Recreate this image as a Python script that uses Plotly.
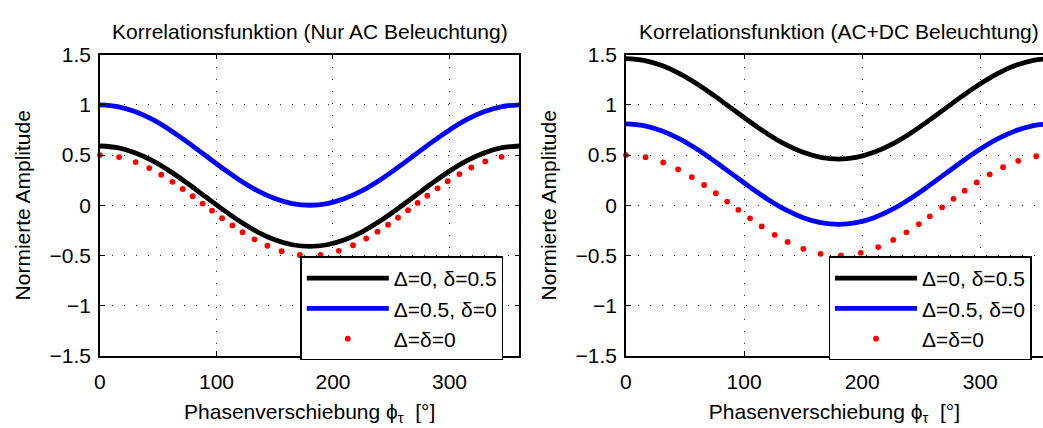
import plotly.graph_objects as go

# ---------------- data ----------------
phase_lines = [0, 15, 30, 45, 60, 75, 90, 105, 120, 135, 150, 165, 180,
               195, 210, 225, 240, 255, 270, 285, 300, 315, 330, 345, 360]

left_black = [0.59, 0.573, 0.523, 0.444, 0.34, 0.219, 0.09, -0.039, -0.16, -0.264, -0.343, -0.393, -0.41,
              -0.393, -0.343, -0.264, -0.16, -0.039, 0.09, 0.219, 0.34, 0.444, 0.523, 0.573, 0.59]
left_blue = [1.0, 0.983, 0.933, 0.854, 0.75, 0.629, 0.5, 0.371, 0.25, 0.146, 0.067, 0.017, 0.0,
             0.017, 0.067, 0.146, 0.25, 0.371, 0.5, 0.629, 0.75, 0.854, 0.933, 0.983, 1.0]
left_dots_x = [0, 16.4, 30.6, 42.3, 52.6, 62.2, 71.1, 79.6, 88.1, 96.2, 104.8, 113.7, 122.4, 132.6,
               143.7, 155.9, 171.6, 189.2, 205, 217.2, 228.5, 238.2, 247.3, 255.8, 264.4, 272.6,
               280.9, 289.7, 298.5, 308.5, 318.7, 330.7, 344.6]
left_dots_y = [0.5, 0.48, 0.43, 0.37, 0.304, 0.233, 0.162, 0.09, 0.017, -0.054, -0.128, -0.201, -0.268,
               -0.339, -0.403, -0.457, -0.495, -0.494, -0.453, -0.398, -0.331, -0.263, -0.193, -0.123,
               -0.049, 0.023, 0.095, 0.169, 0.239, 0.311, 0.376, 0.436, 0.482]

right_black = [1.46, 1.443, 1.393, 1.314, 1.21, 1.089, 0.96, 0.831, 0.71, 0.606, 0.527, 0.477, 0.46,
               0.477, 0.527, 0.606, 0.71, 0.831, 0.96, 1.089, 1.21, 1.314, 1.393, 1.443, 1.46]
right_blue = [0.81, 0.793, 0.743, 0.664, 0.56, 0.439, 0.31, 0.181, 0.06, -0.044, -0.123, -0.173, -0.19,
              -0.173, -0.123, -0.044, 0.06, 0.181, 0.31, 0.439, 0.56, 0.664, 0.743, 0.793, 0.81]
right_dots_x = [0, 16.6, 31.6, 44.2, 55.8, 66.2, 76.1, 85.7, 95.2, 105.1, 115, 126, 136.9, 150.2,
                164.8, 182, 198.9, 213.6, 226.3, 237.5, 248, 257.3, 267.7, 277.3, 286.8, 297, 308,
                319.3, 332.2, 347.4]
right_dots_y = [0.5, 0.479, 0.426, 0.358, 0.281, 0.202, 0.12, 0.037, -0.045, -0.13, -0.211, -0.294,
                -0.365, -0.434, -0.483, -0.5, -0.473, -0.416, -0.345, -0.269, -0.187, -0.11, -0.02,
                0.064, 0.145, 0.227, 0.308, 0.379, 0.442, 0.488]

series_names = ["Δ=0, δ=0.5", "Δ=0.5, δ=0", "Δ=δ=0"]
titles = ["Korrelationsfunktion (Nur AC Beleuchtung)", "Korrelationsfunktion (AC+DC Beleuchtung)"]
x_label = "Phasenverschiebung ϕ<sub>τ</sub>  [°]"
y_label = "Normierte Amplitude"
y_ticks = [-1.5, -1, -0.5, 0, 0.5, 1, 1.5]
y_ticktext = ["−1.5", "−1", "−0.5", "0", "0.5", "1", "1.5"]
x_ticks = [0, 100, 200, 300]

# ---------------- figure ----------------
W, H = 1043, 428
FONT = "Liberation Sans, Arial, Helvetica, sans-serif"
FS = 21

fig = go.Figure()

panels = [
    (left_black, left_blue, left_dots_x, left_dots_y, "x", "y", "legend"),
    (right_black, right_blue, right_dots_x, right_dots_y, "x2", "y2", "legend2"),
]
for blk, blu, dx, dy, xa, ya, lg in panels:
    fig.add_trace(go.Scatter(x=phase_lines, y=blk, mode="lines", name=series_names[0],
                             line=dict(color="#000000", width=4.8, shape="spline"),
                             xaxis=xa, yaxis=ya, legend=lg))
    fig.add_trace(go.Scatter(x=phase_lines, y=blu, mode="lines", name=series_names[1],
                             line=dict(color="#0000ff", width=4.8, shape="spline"),
                             xaxis=xa, yaxis=ya, legend=lg))
    fig.add_trace(go.Scatter(x=dx, y=dy, mode="markers", name=series_names[2],
                             marker=dict(color="#ff0000", size=5.8, line=dict(width=0)),
                             xaxis=xa, yaxis=ya, legend=lg, cliponaxis=False))

ydom = [1 - 363.5 / H, 1 - 45 / H]
axis_common = dict(
    showline=True, linecolor="black", linewidth=1.5,
    ticks="inside", ticklen=5, tickwidth=1, tickcolor="black",
    showgrid=True, gridcolor="#222222", gridwidth=1, griddash="1px,11px",
    zeroline=False, tickfont=dict(size=FS, color="black", family=FONT),
)

fig.update_layout(
    width=W, height=H,
    margin=dict(l=0, r=0, t=0, b=0),
    paper_bgcolor="white", plot_bgcolor="white",
    font=dict(family=FONT, size=FS, color="black"),
    xaxis=dict(domain=[94.5 / W, 516.4 / W], range=[0, 360], tickvals=x_ticks,
               mirror="allticks", anchor="y", ticklabelstandoff=6,
               title=dict(text=x_label, font=dict(size=FS), standoff=12), **axis_common),
    yaxis=dict(domain=ydom, range=[-1.5, 1.5], tickvals=y_ticks, ticktext=y_ticktext,
               mirror="allticks", anchor="x", ticklabelstandoff=3,
               title=dict(text=y_label, font=dict(size=FS), standoff=13), **axis_common),
    xaxis2=dict(domain=[623.5 / W, 1.0], range=[0, (W - 623.5) / 1.188], tickvals=x_ticks,
                mirror="allticks", anchor="y2", ticklabelstandoff=6,
                title=dict(text=x_label, font=dict(size=FS), standoff=12), **axis_common),
    yaxis2=dict(domain=ydom, range=[-1.5, 1.5], tickvals=y_ticks, ticktext=y_ticktext,
                mirror=False, anchor="x2", ticklabelstandoff=3,
                title=dict(text=y_label, font=dict(size=FS), standoff=13), **axis_common),
    legend=dict(x=296 / W, y=1 - 258.3 / H, xanchor="left", yanchor="top",
                bgcolor="white", bordercolor="black", borderwidth=1.5,
                font=dict(size=FS, family=FONT), itemwidth=82, tracegroupgap=0),
    legend2=dict(x=827.3 / W, y=1 - 258.3 / H, xanchor="left", yanchor="top",
                 bgcolor="white", bordercolor="black", borderwidth=1.5,
                 font=dict(size=FS, family=FONT), itemwidth=82, tracegroupgap=0),
    annotations=[
        dict(text=titles[0], xref="paper", yref="paper", x=305.5 / W, y=1 - 21 / H,
             xanchor="center", yanchor="middle", showarrow=False, font=dict(size=FS)),
        dict(text=titles[1], xref="paper", yref="paper", x=837.5 / W, y=1 - 21 / H,
             xanchor="center", yanchor="middle", showarrow=False, font=dict(size=FS)),
    ],
)

fig.write_html("out.html")
